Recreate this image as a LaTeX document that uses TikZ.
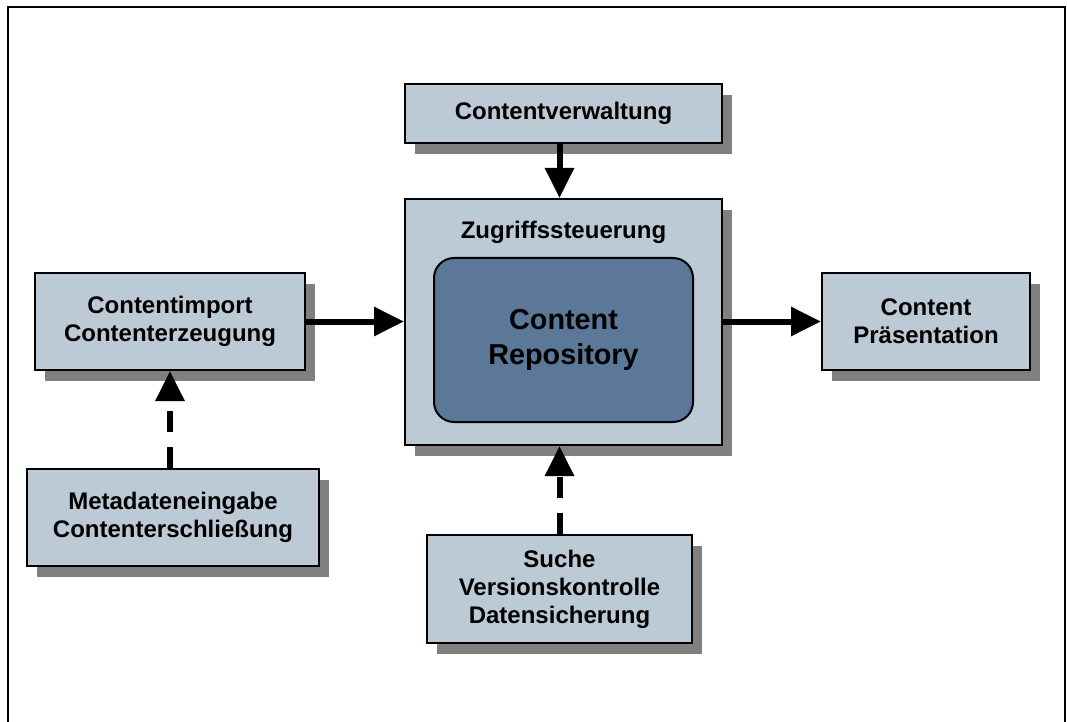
\documentclass[tikz,border=0pt]{standalone}
\usepackage{fontspec}
\setmainfont{Liberation Sans}
\usetikzlibrary{arrows.meta, shadows}
\definecolor{cbox}{HTML}{BCCAD6}
\definecolor{crepo}{HTML}{5B7899}
\definecolor{cshadow}{HTML}{808080}
\tikzset{
  every picture/.style={font=\bfseries\fontsize{12}{14}\selectfont},
  box/.style={draw=black, line width=1pt, fill=cbox, align=center, inner sep=0pt,
    drop shadow={shadow xshift=5pt, shadow yshift=-5.5pt, fill=cshadow, opacity=1}},
  repobox/.style={draw=black, line width=1pt, fill=crepo, rounded corners=10pt, align=center,
    font=\bfseries\fontsize{14.4}{17.5}\selectfont},
  arrow/.style={-{Triangle[length=15pt, width=14pt]}, line width=3pt},
  dasharrow/.style={arrow, dash pattern=on 10.5pt off 7.5pt},
}

\begin{document}
\begin{tikzpicture}[x=0.5pt, y=-0.5pt]
  \useasboundingbox (0,0) rectangle (1067,722);
  % outer frame
  \draw[line width=1.2pt] (8,722) -- (8,7) -- (1065,7) -- (1065,722);

  \node[box, minimum width=158.5pt, minimum height=29.5pt] (verw) at (563.5,113.5) {Contentverwaltung};
  \node[box, minimum width=158.5pt, minimum height=123pt] (zugriff) at (563.5,322) {};
  \node (zlabel) at (563.5,232) {Zugriffssteuerung};
  \node[repobox, minimum width=129.5pt, minimum height=82pt] (repo) at (563.5,340) {Content\\Repository};
  \node[box, minimum width=135pt, minimum height=48.5pt] (import) at (170,321.5) {Contentimport\\Contenterzeugung};
  \node[box, minimum width=104pt, minimum height=48.5pt] (praes) at (926,321.5) {Content\\Präsentation};
  \node[box, minimum width=146pt, minimum height=48.5pt] (meta) at (173,517.5) {Metadateneingabe\\Contenterschließung};
  \node[box, minimum width=132.5pt, minimum height=54pt] (suche) at (559.5,589) {Suche\\Versionskontrolle\\Datensicherung};

  \draw[arrow] (verw.south -| suche) -- (zugriff.north -| suche);
  \draw[arrow] (import.east) -- (import.east -| zugriff.west);
  \draw[arrow] (praes.west -| zugriff.east) -- (praes.west);
  \draw[dasharrow] (meta.north -| import) -- (import.south);
  \draw[dasharrow] (suche.north) -- (zugriff.south -| suche);
\end{tikzpicture}
\end{document}
